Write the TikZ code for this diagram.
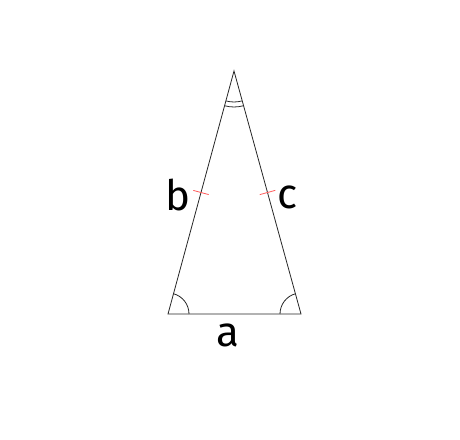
\documentclass[tikz,border=0pt]{standalone}
\usepackage{fontspec}
\setmainfont{Fira Sans}
\usetikzlibrary{calc}

\begin{document}
\begin{tikzpicture}[x=1pt,y=1pt,line width=0.8pt,
  side/.style={black!85},
  tick/.style={red!65,line width=0.8pt},
  lbl/.style={font=\fontsize{42}{42}\selectfont,inner sep=0pt}]
  \useasboundingbox (0,0) rectangle (460,439);
  \coordinate (apex) at (234,368);
  \coordinate (left) at (168,125);
  \coordinate (right) at (301,125);
  \draw[side] (apex) -- (left) -- (right) -- cycle;
  % equal sides
  \draw[tick] ($(apex)!0.5!(left)!8pt!90:(left)$) -- ($(apex)!0.5!(left)!8pt!-90:(left)$);
  \draw[tick] ($(apex)!0.5!(right)!8pt!90:(right)$) -- ($(apex)!0.5!(right)!8pt!-90:(right)$);
  % angles
  \draw[side] ([shift={(254.8:31)}]apex) arc[start angle=254.8,end angle=285.2,radius=31];
  \draw[side] ([shift={(254.8:36)}]apex) arc[start angle=254.8,end angle=285.2,radius=36];
  \draw[side] ([shift={(0:21)}]left) arc[start angle=0,end angle=74.8,radius=21];
  \draw[side] ([shift={(180:21)}]right) arc[start angle=180,end angle=105.2,radius=21];
  \node[lbl] (b) at (178,244) {b};
  \node[lbl] (c) at (288,242) {c};
  \node[lbl] (a) at (228,104) {a};
\end{tikzpicture}
\end{document}
